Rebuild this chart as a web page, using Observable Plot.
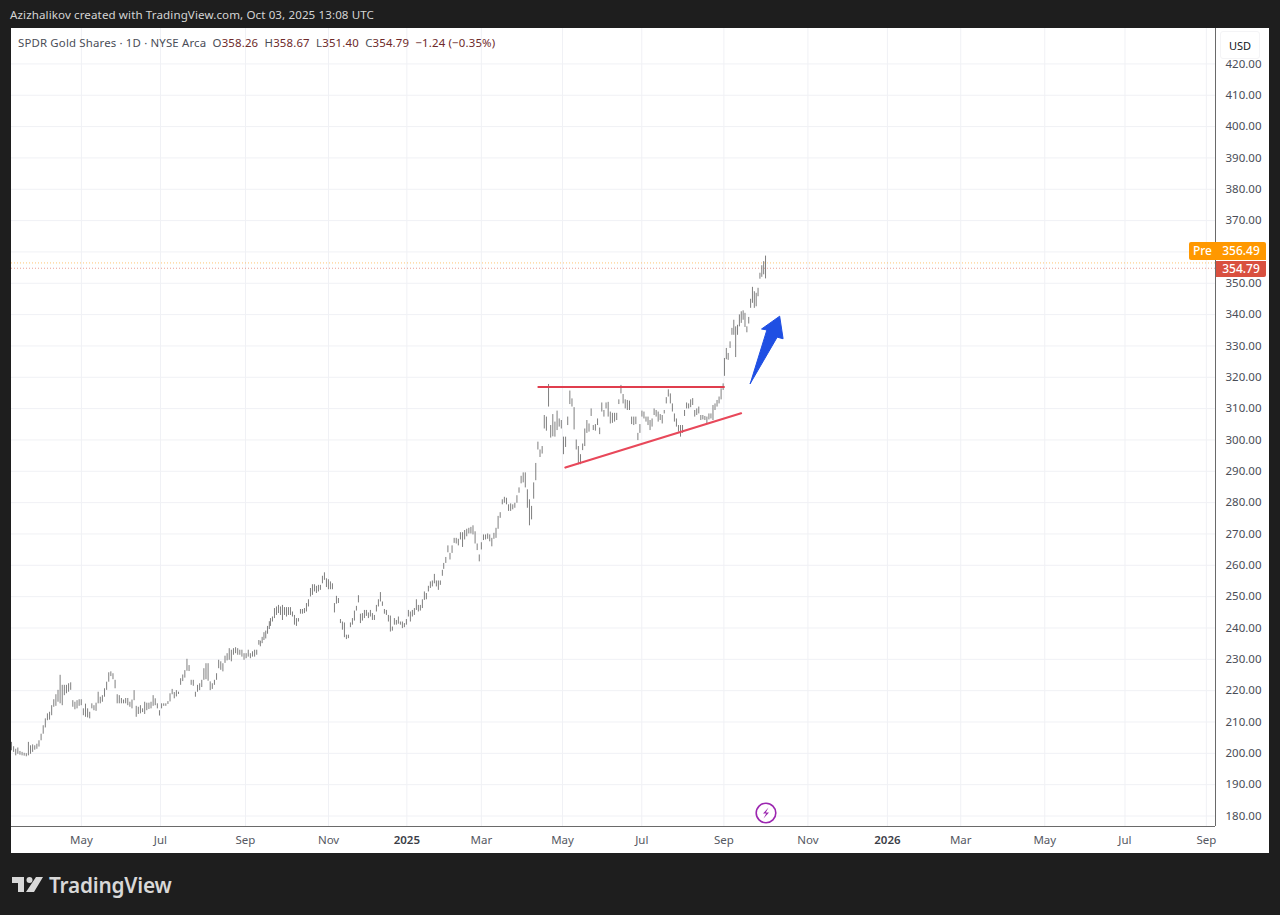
<!DOCTYPE html>
<html>
<head>
<meta charset="utf-8">
<script src="https://cdn.jsdelivr.net/npm/d3@7"></script>
<script src="https://cdn.jsdelivr.net/npm/@observablehq/plot@0.6"></script>
<style>
html,body{margin:0;padding:0;width:1280px;height:915px;overflow:hidden;background:#1e1e1e;font-family:"Noto Sans",sans-serif;}
#panel{position:absolute;left:11px;top:28px;width:1258px;height:825px;background:#fff;}
#chart{position:absolute;left:0;top:0;}
#chart svg{display:block;}
.abs{position:absolute;white-space:pre;}
#head{left:10px;top:7px;font-size:11.6px;line-height:16px;color:#d4d4d4;letter-spacing:.1px;}
#legend{left:18px;top:35px;font-size:11.4px;line-height:16px;color:#4a4d57;letter-spacing:.17px;}
#legend b{font-weight:400;color:#6e2a2a;}
#usd{left:1220px;top:31px;width:38px;height:26px;line-height:27px;text-align:center;background:#fff;border:1px solid #f4f4f6;border-radius:3px;font-size:11px;color:#131722;}
.tag{color:#fff;font-size:12px;font-weight:500;text-align:center;}
#preL{left:1189px;top:242px;width:27px;height:18px;line-height:18px;background:#ff9800;border-radius:2px 0 0 2px;}
#preV{left:1216px;top:242px;width:50px;height:18px;line-height:18px;background:#ff9800;border-radius:0 2px 0 0;}
#lastV{left:1216px;top:261px;width:50px;height:16px;line-height:16px;background:#d9503f;border-radius:0 0 2px 0;}
#brand{left:49px;top:870px;font-size:20.8px;line-height:30px;font-weight:600;color:#d8d8d8;letter-spacing:-.2px;}
</style>
</head>
<body>
<div id="panel"></div>
<div id="chart"></div>
<div class="abs" id="head">Azizhalikov created with TradingView.com, Oct 03, 2025 13:08 UTC</div>
<div class="abs" id="legend">SPDR Gold Shares · 1D · NYSE Arca  O<b>358.26</b>  H<b>358.67</b>  L<b>351.40</b>  C<b>354.79</b>  <b>−1.24 (−0.35%)</b></div>
<div class="abs" id="usd">USD</div>
<div class="abs tag" id="preL">Pre</div>
<div class="abs tag" id="preV">356.49</div>
<div class="abs tag" id="lastV">354.79</div>
<svg class="abs" style="left:754px;top:801px" width="24" height="24" viewBox="0 0 24 24"><circle cx="12" cy="12" r="9.8" fill="#fff" stroke="#9c27b0" stroke-width="1.6"/><path d="M14.5 6.5 L9 12.6 H12.2 L9.5 17.5 L15 11.4 H11.8 Z" fill="#9c27b0"/></svg>
<svg class="abs" style="left:12px;top:877px" width="32" height="16" viewBox="0 0 32 16"><path d="M0 0H12V15H6V6H0Z M24 0H31L22 15H14Z" fill="#d8d8d8"/><circle cx="17.5" cy="3" r="3" fill="#d8d8d8"/></svg>
<div class="abs" id="brand">TradingView</div>
<script>
// Daily [low, high] ranges, grouped by stretch of the chart
const bars2024Spring = [[200.8,203.5],[200.3,202.1],[199.2,201.3],[199.7,201.7],[199.4,200.6],[199.2,200.3],[199.1,200],[198.9,199.9],[199.2,203.5],[199.7,202.4],[200.3,202.7],[201,202.4],[201.3,202.9],[202,204],[204,206.1],[206.1,208.8],[208.1,211],[210.4,212.6],[210.6,213.1],[212,215.2],[214.7,217.1],[215,218.7],[216.3,220.1],[215.8,224.9],[215.2,221.7],[218.4,221.7],[219,221.7],[219.5,222.2],[220.1,222.5],[214.7,216.8],[213.9,216.3],[214.2,216.8],[215,217.1],[215.2,217.1],[212,214.2],[211.5,215.7],[211.3,214.2],[211,213.1],[214.2,215.8],[213.6,215.2],[213.4,216],[215.8,219.5],[215.8,217.9],[216.3,218.4],[217.9,220.6],[220.1,222.7],[222.7,225.7],[224.5,226],[223.5,225.4],[220.6,223.3],[215.8,218.7],[215.8,218.4],[215.8,217.5],[215.8,217],[215.8,217.5],[215.2,217.5],[214.7,216.3],[214.2,217],[216.8,220],[211.5,215],[212.4,214.7],[212.6,215.2],[213,214.2],[212.4,216.3],[213.6,216],[214,216],[214.2,216.3],[215,218.4],[215.2,217.4],[214.2,215.8],[211.9,213.6],[214.2,215.8],[215,215.8],[215,215.8],[215.6,216.5],[216.4,219],[218.7,220.4],[217.4,219.4],[218,220],[218.8,219.5],[221.7,223.8],[222.9,225],[224,226.4],[226.2,230],[226.1,228],[221.7,223.3],[221.4,223.3],[217.9,219.5],[219.5,221.7],[220,222.2],[221,223.3],[223.3,227],[223.5,228.6],[223,228.6],[220,222.8],[220.4,222.2],[221.7,223.3],[223.3,225.4],[227,229.7],[226.5,229.2],[226,228.6],[228.7,231],[229.5,231.8],[229.7,233.4],[229.2,232.9],[231.3,233.4],[231.8,233.7],[231.3,233.4],[231.3,232.9],[230.7,232.9],[229.7,231.8],[230.2,231.8],[230.7,232.9],[230.2,231.8],[230.7,232.4],[230.7,232.9],[231.3,232.9],[234.5,236]];
const barsLateSept2024 = [[234,235.8],[235,237],[236,238.5],[236.5,239],[238,240.5],[239.5,242]];
const barsAutumn2024 = [[240.5,243],[241.9,243.5],[243,246.2],[244,246.7],[244.6,247.2],[244,246.7],[242.4,247.2],[244,246.5],[243.5,246.5],[244,246.5],[244,246.5],[243.5,245.1],[240.9,244],[240.5,243],[241.9,243],[244.4,245.9],[244.4,245.9],[244.6,246.2],[245.1,247.8],[246.7,249],[249.9,252.6],[250.4,253.8],[251.5,253.8],[251,253.3],[251.5,253.6],[252,253.6],[254.1,256.5],[255.2,257.6],[252.9,255.7],[252.2,255.4],[252.2,254.7],[252.2,254.1],[244.8,247.8],[247.6,250.1],[247.8,249.4],[241.4,242.7],[239.3,241.9],[236.9,241.6],[236.3,237.7],[236.6,237.7],[240.1,241.6],[240.9,243],[242.2,245.4],[245.4,246.9],[248,250.3],[241.4,244.4],[242.2,244.6],[243,245.6],[243.7,245.6],[243,244.8],[243.5,245.6],[242.4,244.6],[242.4,244],[245.1,247.2],[246.7,249],[248.3,251.3],[246.9,248.3],[244.4,245.9],[244,245.6],[241.9,244],[238.7,243.8],[239,240.3],[240.9,243],[240.9,242.4],[241.2,243.5],[240.9,241.9],[239.8,241.9],[240.1,241.4],[240.9,242.7],[243.5,245.6],[241.9,245.1],[243.5,245.6],[244,246.2],[245.6,249],[245.1,247.2],[245.4,247.2],[246.2,249],[248.8,251.5],[249,251],[251.5,253.3],[252.6,254.7],[253.1,255],[254.1,257.1],[253.1,255],[252,255],[253.6,255],[256.5,258.4]];
const barsEarly2025 = [[258.7,260.6],[260.6,262.5],[264,266.2],[261.7,263.8],[263.8,266.2],[267,268.6],[266.8,268.6],[266.2,268.3],[268.1,270.4],[265.7,270.4],[268.1,271.1],[269.1,271.5],[270,271.8],[270,272.1],[269.7,272.6],[266.8,270.7],[264.7,266.8],[261.1,263.3],[264.9,267.2],[267.9,269.7],[268.1,269.7],[268.3,270],[267.5,269.7],[265.9,268.6],[268.3,270.2],[268.6,271.8],[271.5,275.6],[275,276.8],[279.3,280.9],[279.8,281.7],[279.3,281.4],[277.2,279.3],[277.2,279.6],[277.7,279.3],[278.2,279.8],[279.8,282.2],[283,284.7],[286,288.4],[286.3,289.5],[284.7,289.5],[278.2,284.1],[272.6,280.9],[274.5,278.8],[281.1,286.3]];
const barsSpring2025 = [[287,292.5],[296.8,299.3],[294.4,296.8],[295.5,297.9],[303.5,307.8],[302.8,307.3],[310.5,317.7],[300.6,304.6],[301,308.1],[300.9,305.7],[303,309.2],[304.1,306.7],[303.5,306.2],[295.3,300.9],[297.6,300.9],[304.6,307.3],[311.3,315.6],[310.5,313.1],[303.2,310.3],[296.8,300],[292.1,297.9],[292.1,295.3],[296.6,298.7],[297.9,303.5],[302.1,306.2],[302.5,305.1],[307.5,309.9],[303,304.6],[302.8,304.9],[304.6,306.7],[301.7,303.8],[308.9,311.8],[307.3,309.4],[309.9,311.8],[307.3,312],[305.1,308.9],[305.3,308.5],[305.7,308.5],[306.2,308.5],[311.3,312.8],[314.7,317.4],[311.5,314.5],[309.9,312.8],[309.4,312.6],[309.4,312.4],[304.9,307.3],[304.6,307.3]];
const barsSummer2025 = [[304.9,307.3],[299.8,302.1],[302.1,304.9],[307.3,309.2],[306.7,308.9],[305.7,307.3],[304.6,307.3],[303,306.2],[304.1,306.7],[307.8,309.9],[307.3,309.4],[305.7,308.9],[306.2,308.1],[305.1,307.8],[308.3,309.4],[311.5,313.5],[313.7,316],[311.5,314.7],[308.9,311.5],[305.7,308.3],[304.1,306.7],[302.5,304.6],[300.9,304.6],[302.1,304.6],[307.5,309.4],[309.9,311.8],[309.9,311.5],[310.3,312.8],[311,313.2],[307.3,309.4],[307.8,309.9],[308.3,310.5],[306.2,307.8],[306.4,307.8],[306.2,307.5],[304.9,307.3],[306.4,308.3],[306.7,308.3],[306.2,311],[309.4,311.5],[310.5,312.6],[311.5,313.7],[312.8,316.3],[315.8,317.9]];
const barsSeptOct2025 = [[320.3,326],[325.6,329.2],[325.4,327.6],[329.2,331.3],[333.4,335.6],[333.4,338.2],[326.3,336.1],[333.4,336.6],[336.1,339.9],[337.2,340.9],[338.2,341.2],[335.9,340.4],[334.2,336.1],[337,339.1],[342,344.9],[343.6,348.7],[342,347.3],[342.5,346.8],[345.7,348.4],[351.3,353.2],[351.9,355.6],[352.7,356.9],[351.4,358.67]];

// Trading-session number at the start and end of each stretch
const stretches = [
  [bars2024Spring, 0, 129.5],
  [barsLateSept2024, 130.3, 135],
  [barsAutumn2024, 135.6, 225.6],
  [barsEarly2025, 226.3, 273.4],
  [barsSpring2025, 274.5, 325.8],
  [barsSummer2025, 326.9, 372.6],
  [barsSeptOct2025, 373.3, 394.8]
];

const monthSessions = [36.6, 78, 122.5, 166, 246, 288.5, 330, 373, 417, 497, 541, 583, 625.6];
const monthLabels = ["May","Jul","Sep","Nov","Mar","May","Jul","Sep","Nov","Mar","May","Jul","Sep"];
const yearSessions = [207, 458.6];
const yearLabels = ["2025","2026"];
const priceTicks = [180,190,200,210,220,230,240,250,260,270,280,290,300,310,320,330,340,350,360,370,380,390,400,410,420];
// 360.00 sits hidden behind the Pre tag in the reference, so it gets a gridline but no label
const labelledPriceTicks = priceTicks.filter(d => d !== 360);

const resistance = [{day:275.9,price:316.9},{day:373,price:316.9}];
const support = [{day:290,price:291.2},{day:382,price:308.5}];
const arrowOutline = [{day:386.8,price:318},{day:395.5,price:335.1},{day:392.7,price:335.4},{day:402.2,price:339.5},{day:404,price:332.3},{day:400.9,price:332.8},{day:386.8,price:318}];
const lastClose = 354.79;
const prePrice = 356.49;

const rows = stretches.flatMap(([pairs, first, last]) =>
  pairs.map(([low, high], i) => ({day: first + i * (last - first) / (pairs.length - 1), low, high})));

const gridColor = "#f0f1f5";
const chart = Plot.plot({
  width: 1280, height: 915,
  marginLeft: 11, marginRight: 65, marginTop: 28, marginBottom: 89,
  style: {background: "transparent", fontFamily: "'Noto Sans',sans-serif"},
  x: {domain: [0, 630.4], axis: null},
  y: {domain: [176.65, 431.3], axis: null},
  marks: [
    Plot.gridX([...monthSessions, ...yearSessions], {stroke: gridColor, strokeOpacity: 1}),
    Plot.gridY(priceTicks, {stroke: gridColor, strokeOpacity: 1}),
    Plot.ruleY([prePrice], {stroke: "#ff9800", strokeDasharray: "1 2", strokeOpacity: 0.55}),
    Plot.ruleY([lastClose], {stroke: "#d9503f", strokeDasharray: "1 2", strokeOpacity: 0.55}),
    Plot.ruleX(rows, {x: "day", y1: "low", y2: "high", stroke: "#707070", strokeWidth: 0.9}),
    Plot.line(resistance, {x: "day", y: "price", stroke: "#e03e4e", strokeWidth: 2.2}),
    Plot.line(support, {x: "day", y: "price", stroke: "#e8485a", strokeWidth: 2.2}),
    Plot.line(arrowOutline, {x: "day", y: "price", fill: "#1f4fe3", stroke: "#1f4fe3", strokeWidth: 1}),
    Plot.ruleX([630.4], {stroke: "#6a6a6a"}),
    Plot.ruleY([176.65], {stroke: "#6a6a6a"}),
    Plot.axisY(labelledPriceTicks, {anchor: "right", tickSize: 0, tickPadding: 10, label: null, fontSize: 11.5, fill: "#4a4d57", tickFormat: d => d.toFixed(2)}),
    Plot.axisX(monthSessions, {anchor: "bottom", tickSize: 0, tickPadding: 9, label: null, fontSize: 11.5, fill: "#555862", tickFormat: d => monthLabels[monthSessions.indexOf(d)]}),
    Plot.axisX(yearSessions, {anchor: "bottom", tickSize: 0, tickPadding: 9, label: null, fontSize: 11.5, fontWeight: 600, fill: "#3a3d46", tickFormat: d => yearLabels[yearSessions.indexOf(d)]})
  ]
});
document.getElementById("chart").appendChild(chart);
</script>
</body>
</html>
